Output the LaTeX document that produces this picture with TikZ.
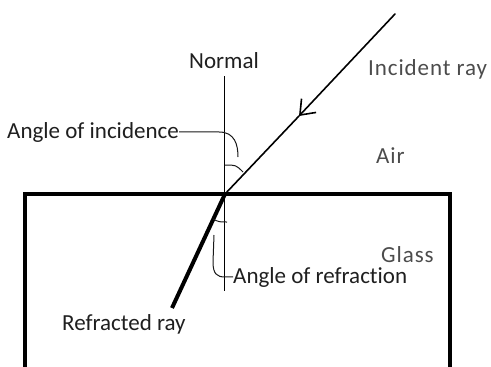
\documentclass[tikz,border=0pt]{standalone}
\usepackage{fontspec}
\setmainfont[Ligatures=NoCommon]{Carlito}
\usetikzlibrary{arrows.meta}
\tikzset{
  lbl/.style={font=\fontsize{23}{26}\selectfont, text=black!88, inner sep=0pt, anchor=base west},
  glbl/.style={lbl, text=black!70, font=\fontsize{23}{26}\selectfont\addfontfeatures{LetterSpace=4}},
  ray/.style={draw=black, line width=1.6pt, line cap=round},
  thickray/.style={draw=black, line width=4pt},
  normalline/.style={draw=black, line width=1pt},
  blockline/.style={draw=black, line width=3.2pt, line join=miter},
  leader/.style={draw=black!90, line width=1pt},
}

\begin{document}
\begin{tikzpicture}[x=1pt,y=-1pt]
  \useasboundingbox (0,0) rectangle (491,367);
  \coordinate (O) at (225,194);
  % glass block
  \draw[blockline] (25,367) -- (25,194) -- (450,194) -- (450,367);
  % normal
  \coordinate (Ntop) at (224,76);
  \coordinate (Nbot) at (224,291);
  \draw[normalline] (Ntop) -- (Nbot);
  \node[lbl, anchor=base] (normal) at (224,68) {Normal};
  % rays
  \coordinate (src) at (395,14);
  \coordinate (tip) at (299,116);
  \coordinate (dst) at (172,308);
  \draw[ray, -{Straight Barb[length=13pt,width=20pt]}] (src) -- (tip);
  \draw[ray] (tip) -- (O);
  \draw[thickray] (O) -- (dst);
  % labels
  \node[glbl] (incident) at (368,75) {Incident ray};
  \node[glbl] (air) at (376,163) {Air};
  \node[glbl] (glass) at (381,262) {Glass};
  \node[lbl] (inc) at (7,138) {Angle of incidence};
  \node[lbl] (refr) at (233,283) {Angle of refraction};
  \node[lbl] (refracted) at (62,330) {Refracted ray};
  % angle marks
  \coordinate (incA) at (238,157);
  \coordinate (refA) at (214,235);
  \draw[leader] (225,165) .. controls (236,165) .. (243,172);
  \draw[leader] (213,219) .. controls (219,222) .. (227,222);
  \draw[leader] (inc.east) -- (inc.east -| 219,0) .. controls +(16,0) and +(0,-12) .. (incA);
  \draw[leader] (refA) -- (213,262) .. controls +(0,12) and +(-8,0) .. (refr.west -| 225,0) -- (refr.west);
\end{tikzpicture}
\end{document}
